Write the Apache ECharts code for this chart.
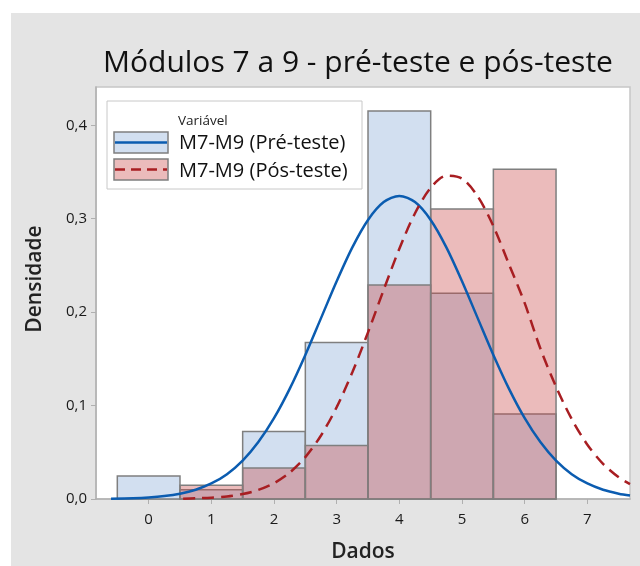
<!DOCTYPE html>
<html>
<head>
<meta charset="utf-8">
<script src="https://cdn.jsdelivr.net/npm/echarts@6/dist/echarts.min.js"></script>
<style>
  html, body { margin: 0; padding: 0; background: #fff; }
  #bg { position: absolute; left: 11px; top: 13px; width: 629px; height: 553px; background: #e4e4e4; }
  #main { position: absolute; left: 0; top: 0; width: 640px; height: 566px; }
</style>
</head>
<body>
<div id="bg"></div>
<div id="main"></div>
<script>
// histograma (densidade por classe)
const bins = [0, 1, 2, 3, 4, 5, 6]
const preDensity = [0.0246, 0.0098, 0.0723, 0.1675, 0.4153, 0.2203, 0.0910]
const posDensity = [0, 0.0147, 0.0332, 0.0573, 0.2290, 0.3105, 0.3530]

// curvas normais
const preCurveX = [-0.6, -0.25, 0, 0.25, 0.5, 0.75, 1, 1.25, 1.5, 1.75, 2, 2.25, 2.5, 2.75, 3, 3.25, 3.5, 3.75, 4,
    4.25, 4.5, 4.75, 5, 5.25, 5.5, 5.75, 6, 6.25, 6.5, 6.75, 7, 7.25, 7.5, 7.68]
const preCurveY = [0.0003, 0.0008, 0.0016, 0.0031, 0.0057, 0.0099, 0.0166, 0.0266, 0.0411, 0.0609, 0.0865, 0.1179,
    0.1542, 0.1936, 0.2331, 0.2694, 0.2987, 0.3178, 0.3244, 0.3178, 0.2987, 0.2694, 0.2331, 0.1936, 0.1542, 0.1179,
    0.0865, 0.0609, 0.0411, 0.0266, 0.0166, 0.0099, 0.0057, 0.0037]
const posCurveX = [0.55, 0.75, 1, 1.25, 1.5, 1.75, 2, 2.25, 2.5, 2.75, 3, 3.25, 3.5, 3.75, 4, 4.25, 4.5, 4.75, 5,
    5.25, 5.5, 5.75, 6, 6.25, 6.5, 6.75, 7, 7.25, 7.5, 7.68]
const posCurveY = [0.0003, 0.0007, 0.0014, 0.0028, 0.0053, 0.0097, 0.0169, 0.0282, 0.0448, 0.0680, 0.0983, 0.1356,
    0.1784, 0.2239, 0.2679, 0.3059, 0.3331, 0.3460, 0.3429, 0.3240, 0.2921, 0.2511, 0.2096, 0.1611, 0.1202, 0.0856,
    0.0581, 0.0376, 0.0232, 0.0159]

const xTicks = [0, 1, 2, 3, 4, 5, 6, 7]
const yTicks = [0, 0.1, 0.2, 0.3, 0.4]

const seriesNames = ['M7-M9 (Pré-teste)', 'M7-M9 (Pós-teste)']

const FONT = '"Open Sans", "Noto Sans", sans-serif'
const preFill = '#d2dff0'
const posFill = 'rgba(201, 71, 71, 0.37)'
const barStroke = '#7f7f7f'
const axisGray = '#b0b0b0'
const preLine = '#0b5cb0'
const posLine = '#a81e22'

const zip = (xs, ys) => xs.map((x, i) => [x, ys[i]])

const histItem = (fill) => (params, api) => {
    const x = api.value(0)
    const y = api.value(1)
    if (!y) return null
    const p0 = api.coord([x - 0.5, y])
    const p1 = api.coord([x + 0.5, 0])
    return {
        type: 'rect',
        shape: { x: p0[0], y: p0[1], width: p1[0] - p0[0], height: p1[1] - p0[1] },
        style: { fill: fill, stroke: barStroke, lineWidth: 1.5 }
    }
}

const chart = echarts.init(document.getElementById('main'))
chart.setOption({
    animation: false,
    title: {
        text: 'Módulos 7 a 9 - pré-teste e pós-teste',
        left: 98,
        top: 43,
        textStyle: { fontFamily: FONT, fontSize: 30, fontWeight: 'normal', color: '#111' }
    },
    grid: {
        left: 96, right: 10, top: 87, bottom: 67,
        show: true, backgroundColor: '#fff', borderColor: '#c6c6c6', borderWidth: 1.5
    },
    xAxis: {
        type: 'value',
        min: -0.84,
        max: 7.68,
        axisLine: { show: true, onZero: false, lineStyle: { color: axisGray, width: 1.5 } },
        axisTick: { show: true, customValues: xTicks, length: 5, lineStyle: { color: axisGray } },
        axisLabel: { customValues: xTicks, color: '#1a1a1a', fontSize: 15, fontFamily: FONT, margin: 13 },
        splitLine: { show: false }
    },
    yAxis: {
        type: 'value',
        min: 0,
        max: 0.441,
        axisLine: { show: true, onZero: false, lineStyle: { color: axisGray, width: 1.5 } },
        axisTick: { show: true, customValues: yTicks, length: 5, lineStyle: { color: axisGray } },
        axisLabel: {
            customValues: yTicks, color: '#1a1a1a', fontSize: 15, fontFamily: FONT, margin: 9,
            formatter: (v) => v.toFixed(1).replace('.', ',')
        },
        splitLine: { show: false }
    },
    series: [
        {
            name: seriesNames[0],
            type: 'custom',
            renderItem: histItem(preFill),
            data: zip(bins, preDensity)
        },
        {
            name: seriesNames[1],
            type: 'custom',
            renderItem: histItem(posFill),
            data: zip(bins, posDensity)
        },
        {
            name: seriesNames[0],
            type: 'line',
            smooth: 0.3,
            showSymbol: false,
            lineStyle: { color: preLine, width: 2.5 },
            data: zip(preCurveX, preCurveY)
        },
        {
            name: seriesNames[1],
            type: 'line',
            smooth: 0.3,
            showSymbol: false,
            lineStyle: { color: posLine, width: 2.5, type: [12, 7] },
            data: zip(posCurveX, posCurveY)
        }
    ],
    graphic: [
        // títulos dos eixos
        {
            type: 'text', x: 363, y: 542,
            style: { text: 'Dados', align: 'center', verticalAlign: 'top', font: '600 21px ' + FONT, fill: '#222' }
        },
        {
            type: 'text', x: 25, y: 279, rotation: Math.PI / 2,
            style: { text: 'Densidade', align: 'center', verticalAlign: 'top', font: '600 21px ' + FONT, fill: '#222' }
        },
        // legenda
        {
            type: 'group', x: 107, y: 101,
            children: [
                { type: 'rect', shape: { x: 0, y: 0, width: 255, height: 88 }, style: { fill: '#fff', stroke: '#c8c8c8', lineWidth: 1 } },
                { type: 'text', x: 71, y: 20, style: { text: 'Variável', font: '13.5px ' + FONT, fill: '#222', verticalAlign: 'middle' } },
                { type: 'rect', shape: { x: 7, y: 31, width: 54, height: 21 }, style: { fill: preFill, stroke: barStroke, lineWidth: 1.5 } },
                { type: 'line', shape: { x1: 8, y1: 41.5, x2: 60, y2: 41.5 }, style: { stroke: preLine, lineWidth: 2.5 } },
                { type: 'text', x: 72, y: 42, style: { text: seriesNames[0], font: '20px ' + FONT, fill: '#111', verticalAlign: 'middle' } },
                { type: 'rect', shape: { x: 7, y: 58, width: 54, height: 21 }, style: { fill: '#ebbbbb', stroke: barStroke, lineWidth: 1.5 } },
                { type: 'line', shape: { x1: 8, y1: 68.5, x2: 60, y2: 68.5 }, style: { stroke: posLine, lineWidth: 2.5, lineDash: [10, 6] } },
                { type: 'text', x: 72, y: 70, style: { text: seriesNames[1], font: '20px ' + FONT, fill: '#111', verticalAlign: 'middle' } }
            ]
        }
    ]
})
</script>
</body>
</html>
